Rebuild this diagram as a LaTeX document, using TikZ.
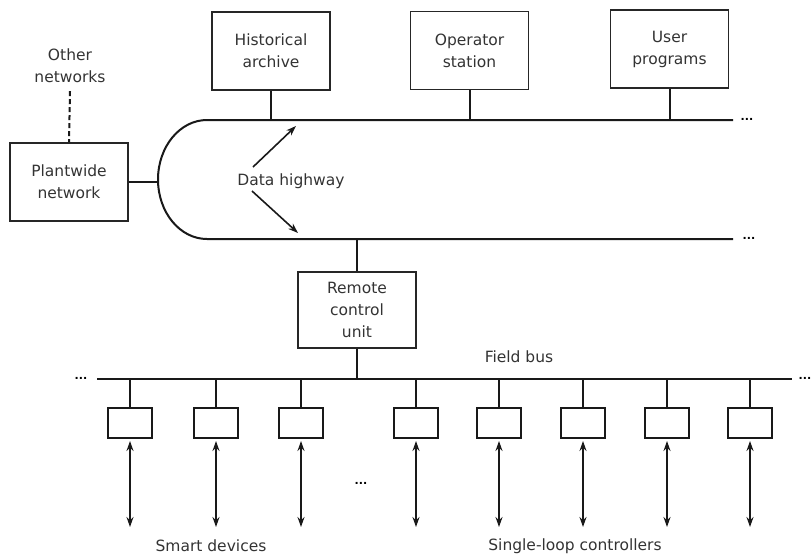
\documentclass[tikz,border=0pt]{standalone}
\usepackage{fontspec}
\setmainfont{DejaVu Sans}
\usetikzlibrary{arrows.meta}
\begin{document}
\begin{tikzpicture}[x=1pt,y=-1pt,
  txt/.style={font=\fontsize{15.5}{22}\selectfont, text=black!80, align=center, inner sep=1pt},
  box/.style={txt, draw=black!85, line width=1.8pt, minimum width=118pt, minimum height=78pt},
  wire/.style={line width=2pt, draw=black!90},
  dev/.style={draw=black!90, line width=2pt, minimum width=44pt, minimum height=30pt, inner sep=0pt},
  darr/.style={line width=1.7pt, draw=black!90, {Stealth[length=10pt,width=7pt]}-{Stealth[length=10pt,width=7pt]}},
  sarr/.style={line width=1.6pt, draw=black!90, -{Stealth[length=10pt,width=7pt]}},
  dots/.style={font=\bfseries\fontsize{11}{11}\selectfont, inner sep=0pt}
]
\useasboundingbox (0,0) rectangle (811,555);

% top boxes
\node[box] (ha) at (271,51) {Historical\\archive};
\node[box] (os) at (469.5,50.5) {Operator\\station};
\node[box] (up) at (669.5,49) {User\\programs};

% other networks and plantwide network
\node[txt] (on) at (70,66) {Other\\networks};
\node[box] (pn) at (69,182) {Plantwide\\network};
\draw[wire, dash pattern=on 5pt off 3pt] ([yshift=-7pt]on.south) -- (pn.north);

% data highway
\coordinate (ht) at (207,120);
\coordinate (hte) at (733,120);
\coordinate (hb) at (207,239);
\coordinate (hbe) at (733,239);
\coordinate (hl) at (158,179.5);
\draw[wire] (hte) -- (ht) arc[start angle=-90, end angle=-270, x radius=49, y radius=59.5] -- (hbe);
\node[dots] (dt) at (747,119) {...};
\node[dots] (db) at (749,238) {...};

\draw[wire] (ha) -- (ha |- ht);
\draw[wire] (os) -- (os |- ht);
\draw[wire] (up) -- (up |- ht);
\draw[wire] (pn.east) -- (pn.east -| hl);

\node[txt] (dh) at (291,181) {Data highway};
\coordinate (a1) at (296,126);
\coordinate (a2) at (298,233);
\draw[sarr] (253,167) -- (a1);
\draw[sarr] (252,191) -- (a2);

% remote control unit
\node[box, minimum height=76pt] (rcu) at (357,310) {Remote\\control\\unit};
\draw[wire] (rcu |- hb) -- (rcu);

% field bus
\coordinate (fbl) at (97,379);
\coordinate (fbr) at (792,379);
\draw[wire] (fbl) -- (fbr);
\node[dots] (fdl) at (81,378) {...};
\node[dots] (fdr) at (805,378) {...};
\node[txt] (fb) at (519,357) {Field bus};
\draw[wire] (rcu) -- (rcu |- fbl);

% devices
\foreach \i/\x in {1/130,2/216,3/301,4/416,5/499,6/583,7/667,8/750} {
  \node[dev] (d\i) at (\x,423) {};
  \draw[wire] (d\i) -- (d\i |- fbl);
  \coordinate (e\i) at (\x,527);
  \draw[darr] ([yshift=-2pt]d\i.south) -- (e\i);
}

\node[dots] (md) at (361,483) {...};
\node[txt] (sd) at (211,546) {Smart devices};
\node[txt] (slc) at (575,546) {Single-loop controllers};
\end{tikzpicture}
\end{document}
